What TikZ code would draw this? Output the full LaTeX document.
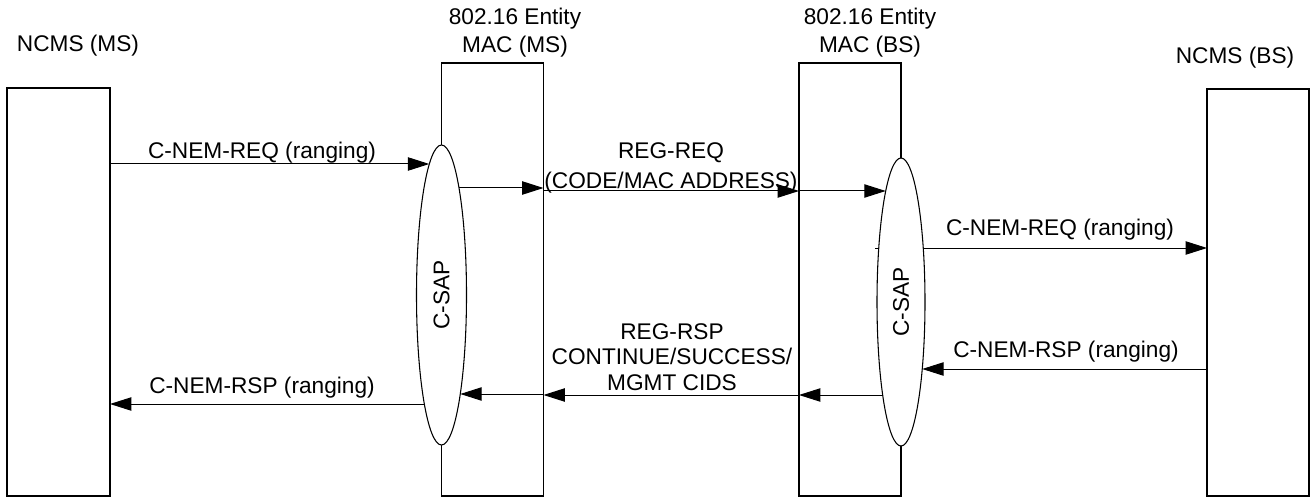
\documentclass[tikz,border=0pt]{standalone}
\usepackage{fontspec}
\setmainfont{Liberation Sans}
\usetikzlibrary{shapes.geometric,arrows.meta,calc}
\begin{document}
\begin{tikzpicture}[x=0.75pt,y=-0.75pt,
  ent/.style={draw, line width=1pt, inner sep=0, outer sep=0, minimum width=76.5pt},
  sap/.style={draw, ellipse, fill=white, line width=0.8pt, inner sep=0, outer sep=0,
    font=\fontsize{17}{19}\selectfont},
  msg/.style={line width=0.75pt, -{Triangle[length=16pt,width=10pt]}},
  lbl/.style={font=\fontsize{17}{19}\selectfont, anchor=base, inner sep=0, align=center}]
\useasboundingbox (0,0) rectangle (1314,499);
% entities
\node[ent, minimum width=77.25pt, minimum height=306pt] (ncmsms) at (58.5,292) {};
\node[ent, minimum height=324.75pt] (macms) at (492.5,279.5) {};
\node[ent, minimum height=324.75pt] (macbs) at (850,279.5) {};
\node[ent, minimum height=305.25pt] (ncmsbs) at (1258,292.5) {};
\node[lbl] (tncmsms) at (78,52) {NCMS (MS)};
\node[lbl] (tmacms) at (515,53) {802.16 Entity\\[2pt]MAC (MS)};
\node[lbl] (tmacbs) at (870,53) {802.16 Entity\\[2pt]MAC (BS)};
\node[lbl] (tncmsbs) at (1235,64) {NCMS (BS)};
% this one starts left of the ellipse
\coordinate (stub) at (875,248);
\draw[msg] (stub) -- (ncmsbs.west |- stub);
% service access points
\node[sap, minimum width=37.5pt, minimum height=225pt] (csapms) at (441.5,295) {\rotatebox{90}{C-SAP}};
\node[sap, minimum width=36pt, minimum height=216pt] (csapbs) at (901,302) {\rotatebox{90}{C-SAP}};
% points on the ellipses
\coordinate (ms1) at ($(csapms.center)+(-12.2,-131)$);
\coordinate (ms2) at ($(csapms.center)+(17.5,-107)$);
\coordinate (ms3) at ($(csapms.center)+(18.8,99)$);
\coordinate (ms4) at ($(csapms.center)+(-17.2,109)$);
\coordinate (bs1) at ($(csapbs.center)+(-15.3,-111)$);
\coordinate (bs2) at ($(csapbs.center)+(21.2,67)$);
\coordinate (bs3) at ($(csapbs.center)+(-18.3,93)$);
% requests
\draw[msg] (ncmsms.east |- ms1) -- (ms1);
\draw[msg] (ms2) -- (macms.east |- ms2);
\draw[msg] (macms.east |- bs1) -- (macbs.west |- bs1);
\draw[msg] (macbs.west |- bs1) -- (bs1);
% responses
\draw[msg] (ncmsbs.west |- bs2) -- (bs2);
\draw[msg] (bs3) -- (macbs.west |- bs3);
\draw[msg] (macbs.west |- bs3) -- (macms.east |- bs3);
\draw[msg] (macms.east |- ms3) -- (ms3);
\draw[msg] (ms4) -- (ncmsms.east |- ms4);
% labels
\node[lbl] (lreqms) at (262,159) {C-NEM-REQ (ranging)};
\node[lbl] (lregreq) at (671,189) {REG-REQ\\[3.5pt](CODE/MAC ADDRESS)};
\node[lbl] (lreqbs) at (1060,236) {C-NEM-REQ (ranging)};
\node[lbl] (lrspbs) at (1066,357) {C-NEM-RSP (ranging)};
\node[lbl] (lregrsp) at (672,390) {REG-RSP\\CONTINUE/SUCCESS/\\MGMT CIDS};
\node[lbl] (lrspms) at (262,393) {C-NEM-RSP (ranging)};
\end{tikzpicture}
\end{document}
